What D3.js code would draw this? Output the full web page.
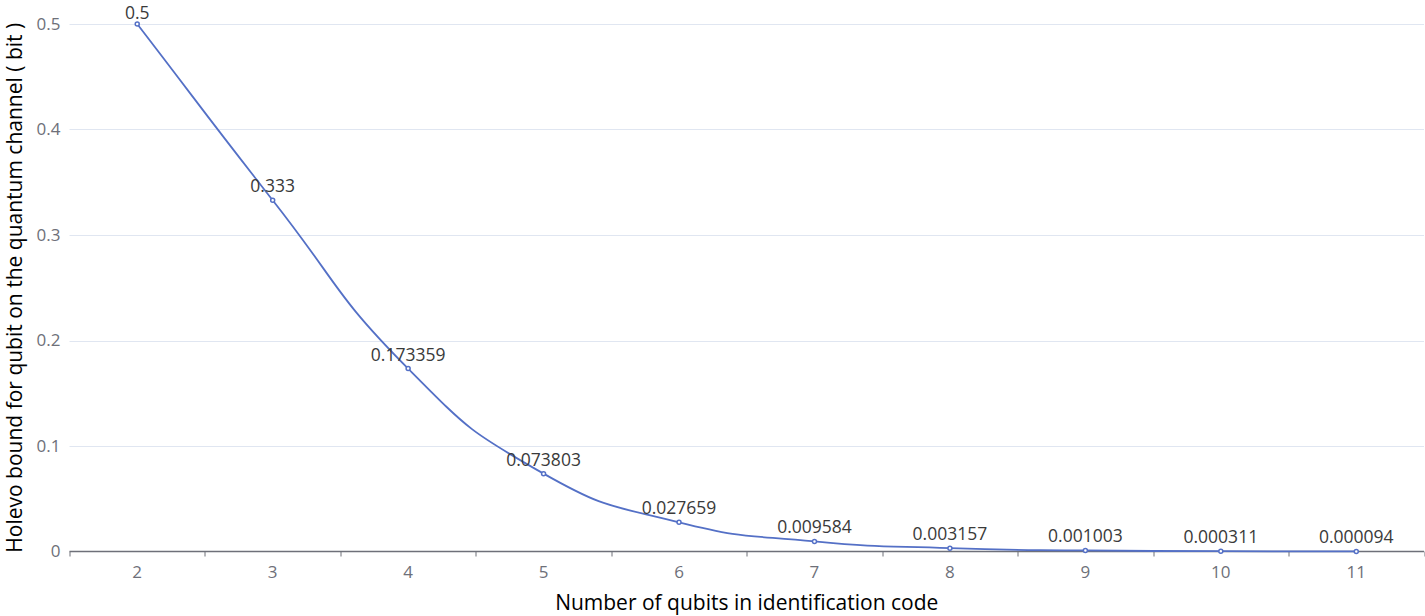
<!DOCTYPE html>
<html>
<head>
<meta charset="utf-8">
<script src="https://cdn.jsdelivr.net/npm/d3@7"></script>
<style>
  body { margin: 0; background: #fff; }
  svg text { font-family: "Open Sans", "Noto Sans", sans-serif; }
</style>
</head>
<body>
<div id="chart"></div>
<script>
// Chart data
var qubits = ["2", "3", "4", "5", "6", "7", "8", "9", "10", "11"];
var holevo = [0.5, 0.333, 0.173359, 0.073803, 0.027659, 0.009584, 0.003157, 0.001003, 0.000311, 0.000094];
var yTicks = [0, 0.1, 0.2, 0.3, 0.4, 0.5];

var svgWidth = 1425;
var svgHeight = 616;
var margin = { top: 24, right: 1, bottom: 64.5, left: 69.5 };
var width = svgWidth - margin.left - margin.right;
var height = svgHeight - margin.top - margin.bottom;

var svg = d3.select("#chart").append("svg")
  .attr("width", svgWidth)
  .attr("height", svgHeight);

var g = svg.append("g")
  .attr("transform", `translate(${margin.left}, ${margin.top})`);

var x = d3.scaleBand().domain(qubits).range([0, width]);
var y = d3.scaleLinear().domain([0, 0.5]).range([height, 0]);

// grid lines
g.selectAll(".grid").data(yTicks.filter(d => d > 0)).enter()
  .append("line")
  .attr("x1", 0).attr("x2", width)
  .attr("y1", d => Math.round(y(d)) + 0.5).attr("y2", d => Math.round(y(d)) + 0.5)
  .attr("stroke", "#E0E6F1");

// y tick labels
g.selectAll(".ylab").data(yTicks).enter()
  .append("text")
  .attr("x", -9)
  .attr("y", d => y(d))
  .attr("dy", "0.35em")
  .attr("text-anchor", "end")
  .attr("font-size", 17)
  .attr("fill", "#6E7079")
  .text(d => d3.format("")(d));

// x axis
var xAxis = g.append("g").attr("transform", `translate(0, ${height})`);
xAxis.append("line").attr("x1", 0).attr("x2", width).attr("stroke", "#6E7079").attr("stroke-width", 1.5);
var tickPos = qubits.map(d => x(d)).concat([width]);
xAxis.selectAll(".tick").data(tickPos).enter()
  .append("line")
  .attr("x1", d => Math.round(d) + 0.5).attr("x2", d => Math.round(d) + 0.5)
  .attr("y1", 0).attr("y2", 5)
  .attr("stroke", "#6E7079");
xAxis.selectAll(".xlab").data(qubits).enter()
  .append("text")
  .attr("x", d => x(d) + x.bandwidth() / 2)
  .attr("y", 13)
  .attr("dy", "0.8em")
  .attr("text-anchor", "middle")
  .attr("font-size", 17)
  .attr("fill", "#6E7079")
  .text(d => d);

// smooth line, same control point rule as echarts smooth: 0.5
var pts = qubits.map((q, i) => [x(q) + x.bandwidth() / 2, y(holevo[i])]);
function smoothPath(p, smooth) {
  var path = d3.path();
  path.moveTo(p[0][0], p[0][1]);
  var cps = p.map(function(pt, i) {
    var prev = p[Math.max(i - 1, 0)], next = p[Math.min(i + 1, p.length - 1)];
    var vx = next[0] - prev[0], vy = next[1] - prev[1];
    var l0 = Math.hypot(pt[0] - prev[0], pt[1] - prev[1]);
    var l1 = Math.hypot(next[0] - pt[0], next[1] - pt[1]);
    var r = (l0 + l1) ? l1 / (l0 + l1) : 0.5;
    return {
      inX: pt[0] - vx * smooth * (1 - r), inY: pt[1] - vy * smooth * (1 - r),
      outX: pt[0] + vx * smooth * r, outY: pt[1] + vy * smooth * r
    };
  });
  for (var i = 1; i < p.length; i++) {
    path.bezierCurveTo(cps[i - 1].outX, cps[i - 1].outY, cps[i].inX, cps[i].inY, p[i][0], p[i][1]);
  }
  return path.toString();
}

g.append("path")
  .attr("d", smoothPath(pts, 0.5))
  .attr("fill", "none")
  .attr("stroke", "#5470C6")
  .attr("stroke-width", 1.8);

g.selectAll(".dot").data(pts).enter()
  .append("circle")
  .attr("cx", d => d[0]).attr("cy", d => d[1])
  .attr("r", 2)
  .attr("fill", "#fff")
  .attr("stroke", "#5470C6")
  .attr("stroke-width", 1.5);

// value labels above points (kept inside the top edge)
g.selectAll(".vlab").data(holevo).enter()
  .append("text")
  .attr("x", (d, i) => pts[i][0])
  .attr("y", (d, i) => Math.max(pts[i][1] - 8, 19 - margin.top))
  .attr("text-anchor", "middle")
  .attr("font-size", 17.5)
  .attr("fill", "#3a3a3a")
  .text(d => String(d));

// axis names
svg.append("text")
  .attr("transform", `translate(${margin.left + width / 2}, 610)`)
  .attr("text-anchor", "middle")
  .attr("font-size", 21)
  .attr("fill", "#000")
  .text("Number of qubits in identification code");

svg.append("text")
  .attr("transform", `translate(22, ${margin.top + height / 2}) rotate(-90)`)
  .attr("text-anchor", "middle")
  .attr("font-size", 21)
  .attr("fill", "#000")
  .text("Holevo bound for qubit on the quantum channel ( bit )");
</script>
</body>
</html>
